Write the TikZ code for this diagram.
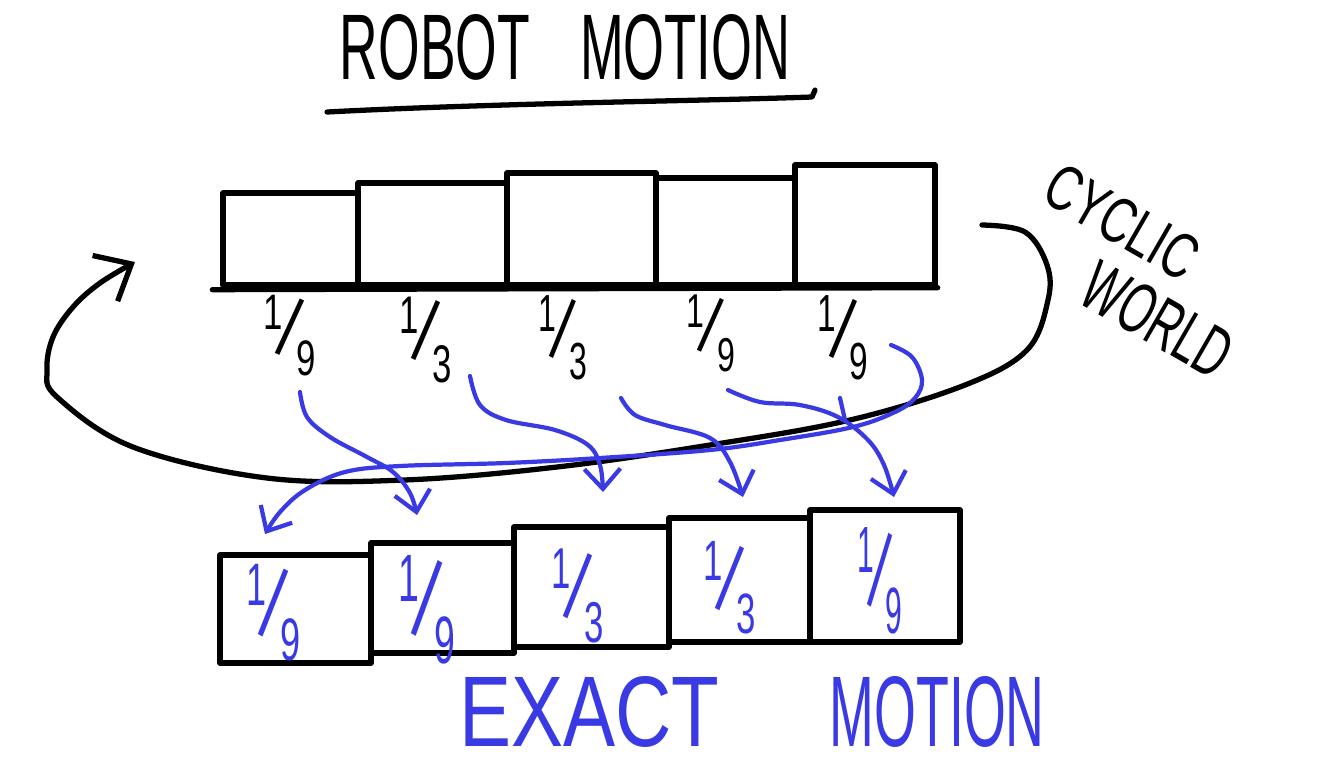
\documentclass[tikz,border=0pt]{standalone}
\usepackage{fontspec}
\setmainfont{Liberation Sans}
\usepackage{graphicx}
\usetikzlibrary{arrows.meta}
\definecolor{pen}{RGB}{58,58,228}
\newcommand\hfr[2]{{\fontsize{7}{8}\selectfont\raisebox{4pt}{#1}}\kern-1.6pt\rotatebox[origin=c]{-18}{\fontsize{12}{14}\selectfont/}\kern-1.6pt{\fontsize{7}{8}\selectfont\raisebox{-2.5pt}{#2}}}
\begin{document}
\begin{tikzpicture}[x=0.01cm,y=-0.01cm, line cap=round, line join=round,
  ink/.style={line width=1.5pt, black},
  blueink/.style={line width=1.2pt, pen},
  cell/.style={draw, line width=1.5pt, inner sep=0pt},
  frtop/.style={inner sep=0pt, black},
  frbot/.style={inner sep=0pt, text=pen},
  bluetip/.style={-{Straight Barb[length=2mm,width=3.6mm,line width=1.2pt]}},
  blacktip/.style={-{Straight Barb[length=3mm,width=5.2mm,line width=1.5pt]}},
  word/.style={inner sep=0pt}]
\useasboundingbox (0,0) rectangle (1330,769);
\fill[white] (0,0) rectangle (1330,769);

% title
\node[word] (title) at (565,47) {\resizebox{1.9cm}{0.65cm}{ROBOT}\hspace{0.5cm}\resizebox{2.1cm}{0.65cm}{MOTION}};
\coordinate (ulS) at (327,112);
\coordinate (ulE) at (812,97);
\draw[ink] (ulS) .. controls (500,103) and (700,101) .. (ulE) -- (815,90);

% top row
\node[cell, minimum width=1.35cm, minimum height=0.92cm] (t1) at (290.5,239) {};
\node[cell, minimum width=1.49cm, minimum height=1.02cm] (t2) at (432.5,234) {};
\node[cell, minimum width=1.49cm, minimum height=1.12cm] (t3) at (581.5,229) {};
\node[cell, minimum width=1.39cm, minimum height=1.07cm] (t4) at (725.5,231.5) {};
\node[cell, minimum width=1.40cm, minimum height=1.20cm] (t5) at (865,225) {};
\draw[ink] (t1.south west) ++(-8,2) -- (t5.south east);

\node[frtop] (f1) at (290,335) {\resizebox{0.52cm}{0.64cm}{\hfr{1}{9}}};
\node[frtop] (f2) at (426,339) {\resizebox{0.52cm}{0.68cm}{\hfr{1}{3}}};
\node[frtop] (f3) at (563,337) {\resizebox{0.48cm}{0.67cm}{\hfr{1}{3}}};
\node[frtop] (f4) at (711,333) {\resizebox{0.48cm}{0.61cm}{\hfr{1}{9}}};
\node[frtop] (f5) at (843,337) {\resizebox{0.50cm}{0.67cm}{\hfr{1}{9}}};

% bottom row
\node[cell, minimum width=1.51cm, minimum height=1.08cm] (b1) at (295.5,609) {};
\node[cell, minimum width=1.43cm, minimum height=1.10cm] (b2) at (442.5,598) {};
\node[cell, minimum width=1.55cm, minimum height=1.20cm] (b3) at (591.5,587) {};
\node[cell, minimum width=1.41cm, minimum height=1.24cm] (b4) at (739.5,580) {};
\node[cell, minimum width=1.50cm, minimum height=1.32cm] (b5) at (885,576) {};

\node[frbot] (g1) at (274,612) {\resizebox{0.54cm}{0.77cm}{\hfr{1}{9}}};
\node[frbot] (g2) at (427,609) {\resizebox{0.56cm}{0.86cm}{\hfr{1}{9}}};
\node[frbot] (g3) at (578,595) {\resizebox{0.52cm}{0.74cm}{\hfr{1}{3}}};
\node[frbot] (g4) at (730,587) {\resizebox{0.52cm}{0.73cm}{\hfr{1}{3}}};
\node[frbot] (g5) at (880,580) {\resizebox{0.45cm}{0.84cm}{\hfr{1}{9}}};

% cyclic world arrow
\coordinate (cycS) at (982,225);
\coordinate (cycE) at (135,262);
\draw[ink, blacktip] plot[smooth, tension=0.6] coordinates {(cycS) (1025,232) (1047,265) (1048,300) (1027,350) (965,385) (850,420) (710,445) (557,467) (404,480) (267,478) (133,447) (57,397) (47,370) (53,337) (73,307) (100,283) (cycE)};
\node[word, rotate=-30, align=left, font=\fontsize{10pt}{0.695cm}\selectfont] (cyc) at (1138,271.5)
  {\resizebox{1.65cm}{0.45cm}{CYCLIC}\\\hspace*{0.825cm}\resizebox{1.6cm}{0.5cm}{WORLD}};

% blue motion arrows
\coordinate (a1s) at (300,392); \coordinate (a1e) at (417,515);
\coordinate (a2s) at (470,376); \coordinate (a2e) at (603,492);
\coordinate (a3s) at (621,398); \coordinate (a3e) at (743,497);
\coordinate (a4s) at (728,390); \coordinate (a4e) at (894,497);
\coordinate (a5s) at (891,345); \coordinate (a5e) at (265,534);
\draw[blueink, bluetip] plot[smooth, tension=0.6] coordinates {(a1s) (307,417) (330,437) (367,457) (393,472) (410,493) (a1e)};
\draw[blueink, bluetip] plot[smooth, tension=0.6] coordinates {(a2s) (480,405) (506,420) (555,430) (588,445) (600,465) (a2e)};
\draw[blueink, bluetip] plot[smooth, tension=0.6] coordinates {(a3s) (635,415) (665,425) (710,438) (730,462) (a3e)};
\draw[blueink, bluetip] plot[smooth, tension=0.6] coordinates {(a4s) (760,402) (800,405) (838,417) (868,440) (884,465) (a4e)};
\draw[blueink] (840,398) -- (845,420);
\draw[blueink, bluetip] plot[smooth, tension=0.6] coordinates {(a5s) (912,357) (922,380) (915,398) (895,412) (853,427) (780,440) (710,450) (600,458) (506,463) (400,466) (345,472) (305,490) (280,512) (a5e)};

% bottom label
\node[word, text=pen] (exact) at (752,712) {\resizebox{2.6cm}{0.7cm}{EXACT}\hspace{1.1cm}\resizebox{2.15cm}{0.7cm}{MOTION}};
\end{tikzpicture}
\end{document}
